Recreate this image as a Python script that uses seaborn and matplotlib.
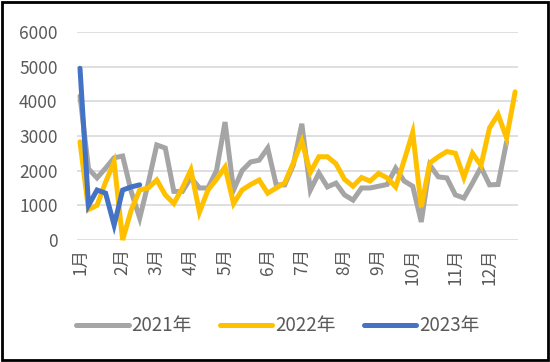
import numpy as np
import pandas as pd
import matplotlib
matplotlib.use('Agg')
import matplotlib.pyplot as plt
import seaborn as sns
from matplotlib.lines import Line2D
from matplotlib.patches import Rectangle

# weekly values
y2021 = [4150, 2050, 1790, 2070, 2370, 2420, 1400, 630, 1640, 2740,
         2650, 1400, 1400, 1800, 1500, 1500, 2000, 3400, 1440, 2000,
         2250, 2300, 2650, 1590, 1590, 2160, 3350, 1440, 1930, 1530,
         1640, 1300, 1150, 1500, 1500, 1550, 1600, 2070, 1700, 1550,
         520, 2160, 1820, 1790, 1300, 1210, 1640, 2100, 1590, 1600,
         2830, np.nan]
y2022 = [2830, 880, 1000, 1670, 2250, 0, 860, 1440, 1500, 1730,
         1300, 1050, 1500, 2020, 800, 1440, 1750, 2100, 1050, 1440,
         1600, 1730, 1350, 1500, 1650, 2220, 2850, 1950, 2400, 2400,
         2200, 1750, 1550, 1800, 1700, 1920, 1790, 1530, 2300, 3100,
         950, 2220, 2400, 2550, 2500, 1800, 2500, 2150, 3230, 3620,
         2940, 4270]
y2023 = [4950, 1000, 1440, 1350, 430, 1440, 1530, 1590]

series_names = ['2021年', '2022年', '2023年']
series_colors = ['#A5A5A5', '#FFC000', '#4472C4']

month_labels = ['1月', '2月', '3月', '4月', '5月', '6月',
                '7月', '8月', '9月', '10月', '11月', '12月']
month_weeks = [0, 5, 9, 13, 17, 22, 26, 31, 35, 39, 44, 48]

y_ticks = [0, 1000, 2000, 3000, 4000, 5000, 6000]

# long-form table for seaborn
frames = []
for name, vals in zip(series_names, [y2021, y2022, y2023]):
    frames.append(pd.DataFrame({'week': np.arange(len(vals)),
                                'value': vals, 'year': name}))
df = pd.concat(frames, ignore_index=True)

sns.set_style('white')
plt.rcParams['font.family'] = ['Noto Sans CJK SC', 'DejaVu Sans']
text_color = '#595959'

fig = plt.figure(figsize=(5.5, 3.62), dpi=100)
ax = fig.add_axes([0.14, 0.337, 0.802, 0.575])

sns.lineplot(data=df, x='week', y='value', hue='year',
             palette=dict(zip(series_names, series_colors)),
             linewidth=3.6, legend=False, ax=ax, zorder=3)
for line in ax.lines:
    line.set_solid_joinstyle('miter')
    line.set_clip_on(False)

ax.set_ylim(0, 6000)
ax.set_xlim(-0.35, 51.35)
ax.set_yticks(y_ticks)
ax.set_yticklabels([str(t) for t in y_ticks], fontsize=12.5, color=text_color)
ax.set_xticks(month_weeks)
ax.set_xticklabels(month_labels, rotation=90, fontsize=12.5,
                   color=text_color, va='top', ha='center')
ax.tick_params(axis='both', length=0)
ax.tick_params(axis='y', pad=14)
ax.tick_params(axis='x', pad=6)
ax.set_xlabel('')
ax.set_ylabel('')
ax.grid(axis='y', color='#D9D9D9', linewidth=1.2)
ax.grid(axis='x', visible=False)
ax.set_axisbelow(True)
for side in ['top', 'right', 'left', 'bottom']:
    ax.spines[side].set_visible(False)

handles = [Line2D([0], [0], color=c, linewidth=3.6) for c in series_colors]
leg = fig.legend(handles, series_names, loc='center', ncol=3,
                 bbox_to_anchor=(0.505, 0.1), frameon=False, fontsize=13.5,
                 handlelength=2.8, handletextpad=0.15, columnspacing=1.5,
                 labelcolor=text_color)

# outer chart border
fig.patches.append(Rectangle((0.004, 0.006), 0.992, 0.988,
                             transform=fig.transFigure, fill=False,
                             edgecolor='black', linewidth=2))

fig.savefig('out.png', dpi=100)
